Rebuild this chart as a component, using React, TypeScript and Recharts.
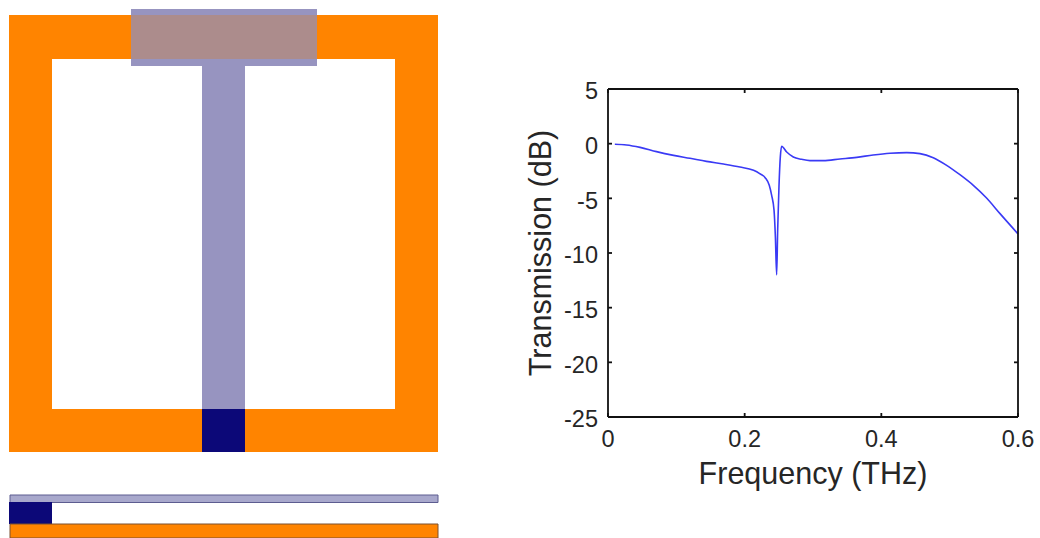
import { ComposedChart, Label, Line, LineChart, ReferenceArea, XAxis, YAxis } from 'recharts';

const INK = '#262626';
const FONT = '"Liberation Sans", Arial, sans-serif';

// Transmission spectrum
const frequency = [
  0.01, 0.027, 0.047, 0.071, 0.096, 0.12, 0.144, 0.169, 0.193, 0.213, 0.222, 0.23, 0.236, 0.2395, 0.243, 0.245,
  0.2468, 0.2483, 0.2502, 0.2522, 0.2541, 0.2615, 0.2712, 0.2834, 0.2956, 0.315, 0.3395, 0.364, 0.388, 0.4127, 0.437,
  0.4566, 0.476, 0.4956, 0.515, 0.5346, 0.554, 0.5737, 0.6,
];
const transmission = [
  -0.06, -0.12, -0.34, -0.73, -1.07, -1.34, -1.62, -1.86, -2.13, -2.44, -2.74, -3.11, -3.81, -4.73, -6.1, -8.6, -12.0,
  -7.9, -3.93, -1.19, -0.24, -0.76, -1.22, -1.43, -1.55, -1.55, -1.4, -1.25, -1.04, -0.88, -0.82, -0.91, -1.28, -1.98,
  -2.84, -3.81, -4.97, -6.4, -8.25,
];
const xTicks = [0, 0.2, 0.4, 0.6];
const yTicks = [5, 0, -5, -10, -15, -20, -25];

const spectrum = frequency.map((f, i) => ({ f, db: transmission[i] }));

// Device schematic, drawn in its own layout units on hidden axes: [x1, x2, y1, y2, fill, stroke]
type Block = [number, number, number, number, string, string?];
const topView: Block[] = [
  [9, 438, 15, 452, '#ff8400'],
  [52, 395, 59, 409, '#ffffff'],
  [131, 317, 9, 66, '#9794c0'],
  [131, 317, 15, 59, '#ac8c8c'],
  [202, 245, 66, 409, '#9794c0'],
  [202, 245, 409, 452, '#0c0878'],
];
const sideView: Block[] = [
  [10, 438, 495, 502.5, '#a8a8cc', '#5c5c90'],
  [9, 52, 502, 524, '#0c0878'],
  [10, 438, 524, 538, '#ff8400', '#7a5030'],
];
const schematicExtent = [
  { x: 0, y: 0 },
  { x: 450, y: 538 },
];

function Schematic() {
  return (
    <ComposedChart
      width={450}
      height={538}
      data={schematicExtent}
      margin={{ top: 0, right: 0, bottom: 0, left: 0 }}
      style={{ position: 'absolute', left: 0, top: 0 }}
    >
      <XAxis type="number" dataKey="x" domain={[0, 450]} hide />
      <YAxis type="number" domain={[0, 538]} reversed hide />
      {/* invisible, only here so the hidden axes get built */}
      <Line dataKey="y" stroke="none" dot={false} legendType="none" isAnimationActive={false} />
      {[...topView, ...sideView].map(([x1, x2, y1, y2, fill, stroke], i) => (
        <ReferenceArea
          key={i}
          x1={x1}
          x2={x2}
          y1={y1}
          y2={y2}
          fill={fill}
          fillOpacity={1}
          stroke={stroke ?? 'none'}
          strokeWidth={1}
        />
      ))}
    </ComposedChart>
  );
}

function TransmissionPlot() {
  const tick = { fill: INK, fontSize: 23.5, fontFamily: FONT };
  const tickLine = { stroke: '#111111', strokeWidth: 1.8 };
  return (
    <LineChart
      width={520}
      height={538}
      data={spectrum}
      margin={{ top: 88, right: 21, bottom: 61, left: 28 }}
      style={{ position: 'absolute', left: 520, top: 0 }}
    >
      <XAxis
        xAxisId="bottom"
        type="number"
        dataKey="f"
        domain={[0, 0.6]}
        ticks={xTicks}
        height={60}
        interval={0}
        tickSize={-4}
        tickMargin={17}
        tick={tick}
        tickLine={tickLine}
        tickFormatter={(v: number) => String(v)}
        stroke="#111111"
        strokeWidth={1.8}
      >
        <Label
          value="Frequency (THz)"
          position="insideBottom"
          offset={-7}
          style={{ fill: INK, fontSize: 30.5, fontFamily: FONT }}
        />
      </XAxis>
      <XAxis
        xAxisId="top"
        orientation="top"
        type="number"
        dataKey="f"
        domain={[0, 0.6]}
        ticks={xTicks}
        height={1}
        interval={0}
        tickSize={-4}
        tickLine={tickLine}
        tickFormatter={() => ''}
        stroke="#111111"
        strokeWidth={1.8}
      />
      <YAxis
        yAxisId="left"
        type="number"
        domain={[-25, 5]}
        ticks={yTicks}
        width={60}
        interval={0}
        tickSize={-4}
        tickMargin={14}
        tick={{ ...tick, dy: 2 }}
        tickLine={tickLine}
        stroke="#111111"
        strokeWidth={1.8}
      >
        <Label
          value="Transmission (dB)"
          angle={-90}
          position="insideLeft"
          offset={-8}
          style={{ fill: INK, fontSize: 30.5, fontFamily: FONT, textAnchor: 'middle' }}
        />
      </YAxis>
      <YAxis
        yAxisId="right"
        orientation="right"
        type="number"
        domain={[-25, 5]}
        ticks={yTicks}
        width={1}
        interval={0}
        tickSize={-4}
        tickLine={tickLine}
        tickFormatter={() => ''}
        stroke="#111111"
        strokeWidth={1.8}
      />
      <Line
        xAxisId="bottom"
        yAxisId="left"
        dataKey="db"
        type="monotoneX"
        stroke="#3a3af5"
        strokeWidth={1.6}
        dot={false}
        isAnimationActive={false}
      />
      {/* invisible, only here so the top and right frame axes get built */}
      <Line
        xAxisId="top"
        yAxisId="right"
        dataKey="db"
        stroke="none"
        dot={false}
        legendType="none"
        isAnimationActive={false}
      />
    </LineChart>
  );
}

export default function App() {
  return (
    <div style={{ position: 'absolute', left: 0, top: 0, width: 1040, height: 538, background: '#ffffff', overflow: 'hidden' }}>
      <Schematic />
      <TransmissionPlot />
    </div>
  );
}
